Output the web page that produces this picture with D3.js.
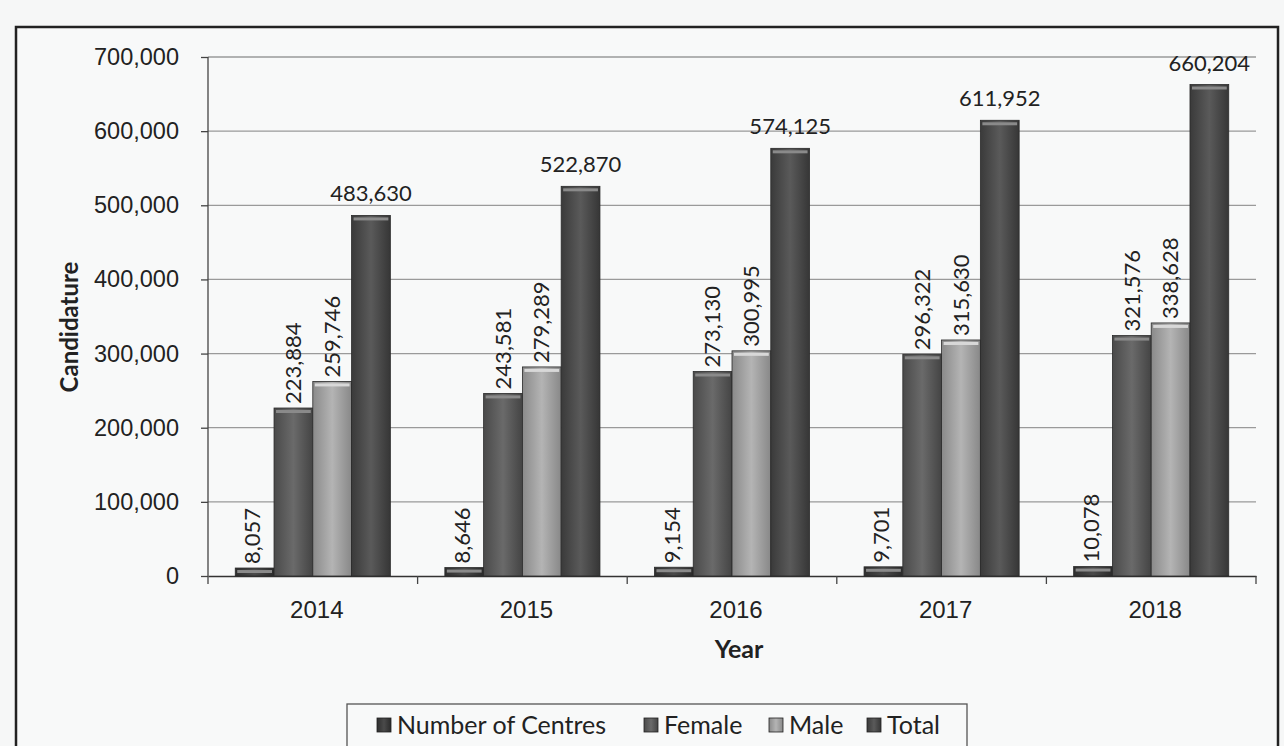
<!DOCTYPE html>
<html><head><meta charset="utf-8">
<script src="https://cdn.jsdelivr.net/npm/d3@7"></script>
<style>
html,body{margin:0;padding:0;background:#f6f7f7;}
svg{display:block;font-family:"Lato","Open Sans",sans-serif;}
</style></head>
<body><svg id="c" width="1284" height="746"></svg>
<script>
const years = ["2014","2015","2016","2017","2018"];
const seriesNames = ["Number of Centres","Female","Male","Total"];
const centres = [8057, 8646, 9154, 9701, 10078];
const female = [223884, 243581, 273130, 296322, 321576];
const male = [259746, 279289, 300995, 315630, 338628];
const total = [483630, 522870, 574125, 611952, 660204];
const yTicks = [0,100000,200000,300000,400000,500000,600000,700000];

const svg = d3.select("#c");
const m={left:208,right:1256,top:57,bottom:576};

// outer frame
svg.append("rect").attr("x",16).attr("y",27).attr("width",1262).attr("height",760)
  .attr("fill","#f8f9f9").attr("stroke","#222").attr("stroke-width",2.5);

const defs=svg.append("defs");
const cols=[
  {id:"g0",stops:["#2e2e2e","#4a4a4a","#2a2a2a"]},
  {id:"g1",stops:["#4a4a4a","#6a6a6a","#444"]},
  {id:"g2",stops:["#8a8a8a","#b4b4b4","#888"]},
  {id:"g3",stops:["#3a3a3a","#5a5a5a","#363636"]}
];
cols.forEach(c=>{
  const g=defs.append("linearGradient").attr("id",c.id).attr("x1","0").attr("x2","1").attr("y1","0").attr("y2","0");
  g.append("stop").attr("offset","0%").attr("stop-color",c.stops[0]);
  g.append("stop").attr("offset","50%").attr("stop-color",c.stops[1]);
  g.append("stop").attr("offset","100%").attr("stop-color",c.stops[2]);
});

const y=d3.scaleLinear().domain([0,700000]).range([m.bottom,m.top]);
const x0=d3.scaleBand().domain(years).range([m.left,m.right]).paddingInner(0.26).paddingOuter(0.13);
const x1=d3.scaleBand().domain(seriesNames).range([0,x0.bandwidth()]);
const fmt=d3.format(",");

// gridlines
svg.append("g").selectAll("line").data(yTicks.slice(1)).join("line")
  .attr("x1",m.left).attr("x2",m.right).attr("y1",d=>y(d)).attr("y2",d=>y(d))
  .attr("stroke","#9a9a9a").attr("stroke-width",1.3);

// y axis
const ya=svg.append("g").attr("transform",`translate(${m.left},0)`)
  .call(d3.axisLeft(y).tickValues(yTicks).tickFormat(fmt).tickSize(7).tickSizeOuter(0));
ya.select(".domain").attr("stroke","#444").attr("stroke-width",1.3).attr("d",`M0,${m.top}V${m.bottom+8}`);
ya.selectAll(".tick line").attr("stroke","#444").attr("stroke-width",1.3);
ya.selectAll("text").attr("font-size",23.5).attr("fill","#222").attr("x",-29);

// x axis
const xa=svg.append("g").attr("transform",`translate(0,${m.bottom})`)
  .call(d3.axisBottom(x0).tickSize(0).tickSizeOuter(0));
xa.select(".domain").attr("stroke","#333").attr("stroke-width",1.5);
xa.selectAll("text").attr("font-size",24).attr("fill","#222").attr("y",0).attr("dy","1.75em").attr("dx","4");
// category separator ticks
const step=x0.step();
const sepPositions=years.map((d,i)=>m.left+step*(i+1)).filter(v=>v<=m.right+1);
svg.append("g").selectAll("line").data(sepPositions).join("line")
  .attr("x1",d=>d).attr("x2",d=>d).attr("y1",m.bottom).attr("y2",m.bottom+8)
  .attr("stroke","#444").attr("stroke-width",1.3);

const data=years.map((yr,i)=>({yr,vals:[centres[i],female[i],male[i],total[i]]}));
const groups=svg.append("g").selectAll("g").data(data).join("g")
  .attr("transform",d=>`translate(${x0(d.yr)},0)`);

groups.selectAll("rect.bar").data(d=>d.vals.map((v,k)=>({v,k,name:seriesNames[k]}))).join("rect")
  .attr("class","bar")
  .attr("x",d=>x1(d.name)).attr("width",x1.bandwidth())
  .attr("y",d=>y(d.v)-2).attr("height",d=>m.bottom-y(d.v)+2)
  .attr("fill",d=>`url(#g${d.k})`).attr("stroke","#2a2a2a").attr("stroke-width",0.8);
// top caps
groups.selectAll("rect.cap").data(d=>d.vals.map((v,k)=>({v,k,name:seriesNames[k]}))).join("rect")
  .attr("class","cap")
  .attr("x",d=>x1(d.name)+2).attr("width",x1.bandwidth()-4)
  .attr("y",d=>y(d.v)).attr("height",3)
  .attr("fill",d=>d.k===2?"#d8d8d8":"#8a8a8a");

// labels
groups.selectAll("text.rot").data(d=>d.vals.slice(0,3).map((v,k)=>({v,k,name:seriesNames[k]}))).join("text")
  .attr("class","rot")
  .attr("transform",d=>`translate(${x1(d.name)+x1.bandwidth()/2+(d.k===0?-2:0)},${y(d.v)-6}) rotate(-90)`)
  .attr("dy","0.35em").attr("text-anchor","start")
  .attr("font-size",22).attr("fill","#222").text(d=>fmt(d.v));
groups.append("text")
  .attr("x",x1("Total")+x1.bandwidth()/2).attr("y",d=>y(d.vals[3])-16)
  .attr("text-anchor","middle").attr("font-size",22).attr("fill","#222")
  .text(d=>fmt(d.vals[3]));

// axis titles
svg.append("text").attr("transform",`translate(78,327) rotate(-90)`)
  .attr("text-anchor","middle").attr("font-size",24).attr("font-weight","bold").attr("fill","#222").text("Candidature");
svg.append("text").attr("x",739).attr("y",658).attr("text-anchor","middle")
  .attr("font-size",25).attr("font-weight","bold").attr("fill","#222").text("Year");

// legend
const lg=svg.append("g");
lg.append("rect").attr("x",347).attr("y",704).attr("width",620).attr("height",60)
  .attr("fill","#f8f9f9").attr("stroke","#555").attr("stroke-width",1.3);
const legX=[377,644,769,867];
seriesNames.forEach((n,k)=>{
  lg.append("rect").attr("x",legX[k]).attr("y",718).attr("width",14).attr("height",14)
    .attr("fill",`url(#g${k})`).attr("stroke","#222").attr("stroke-width",0.8);
  lg.append("text").attr("x",legX[k]+20).attr("y",734).attr("font-size",25).attr("fill","#222").text(n);
});
</script></body></html>
